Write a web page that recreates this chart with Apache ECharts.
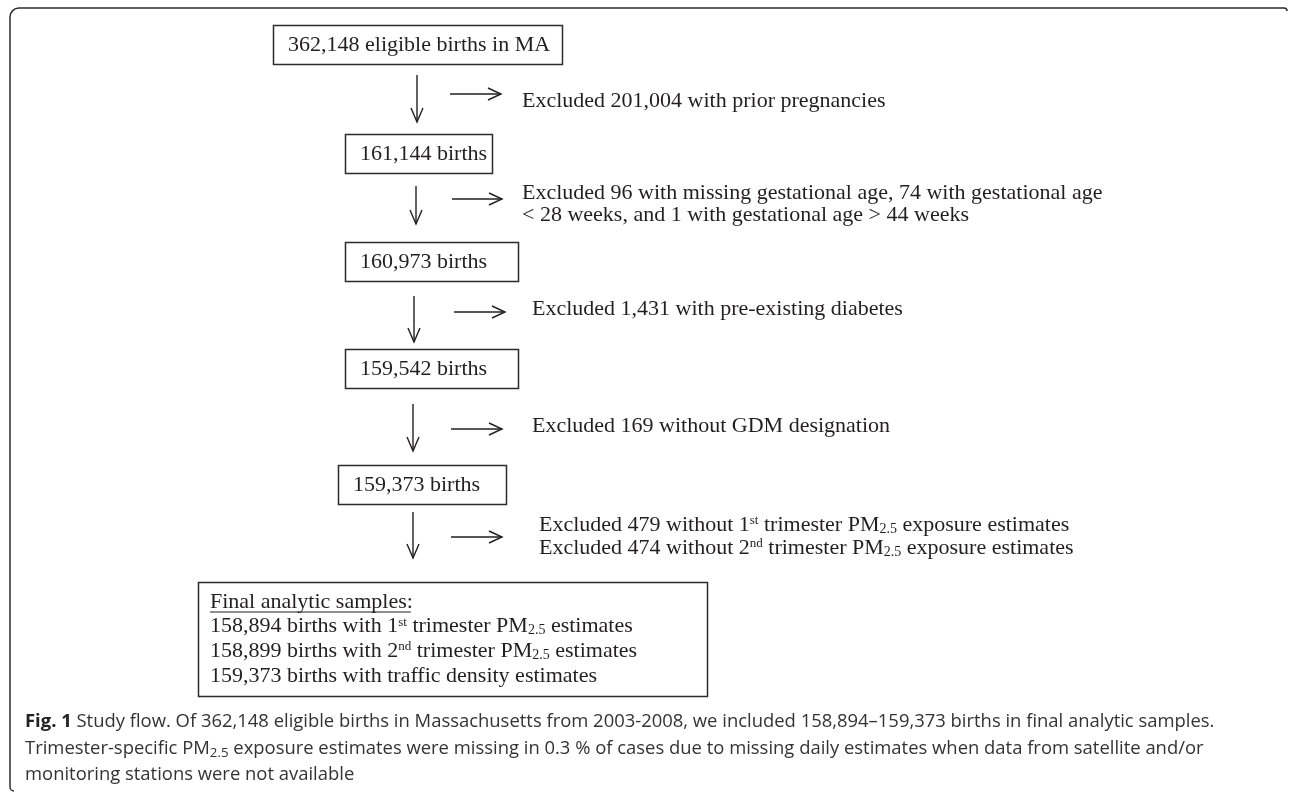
<!DOCTYPE html>
<html>
<head>
<meta charset="utf-8">
<title>Study flow</title>
<script src="https://cdn.jsdelivr.net/npm/echarts@6/dist/echarts.min.js"></script>
<style>
    html, body { margin: 0; padding: 0; background: #fff; }
    #main { width: 1290px; height: 793px; }
</style>
</head>
<body>
<div id="main"></div>
<script>
// 流程图内容
var boxLabels = ['362,148 eligible births in MA', '161,144 births', '160,973 births', '159,542 births', '159,373 births'];
var exclusionLines = [
    ['Excluded 201,004 with prior pregnancies'],
    ['Excluded 96 with missing gestational age, 74 with gestational age', '< 28 weeks, and 1 with gestational age > 44 weeks'],
    ['Excluded 1,431 with pre-existing diabetes'],
    ['Excluded 169 without GDM designation'],
    ['Excluded 479 without 1{sup|st} trimester PM{sub|2.5} exposure estimates',
     'Excluded 474 without 2{sup|nd} trimester PM{sub|2.5} exposure estimates']
];
var finalTitle = 'Final analytic samples:';
var finalLines = [
    '158,894 births with 1{sup|st} trimester PM{sub|2.5} estimates',
    '158,899 births with 2{sup|nd} trimester PM{sub|2.5} estimates',
    '159,373 births with traffic density estimates'
];
var captionBold = 'Fig. 1';
var captionLines = [
    ' Study flow. Of 362,148 eligible births in Massachusetts from 2003-2008, we included 158,894\u2013159,373 births in final analytic samples.',
    'Trimester-specific PM{sub|2.5} exposure estimates were missing in 0.3 % of cases due to missing daily estimates when data from satellite and/or',
    'monitoring stations were not available'
];

// 布局 (px)
var boxRects = [[273, 25, 289, 39], [345, 134, 147, 39], [345, 242, 173, 39], [345, 349, 173, 39], [338, 465, 168, 39]];
var downArrows = [[417, 75, 122], [416, 186, 224], [414, 296, 342], [413, 404, 451], [413, 512, 558]];
var rightArrows = [[450, 501, 94], [452, 502, 199], [454, 505, 312], [451, 502, 429], [451, 502, 537]];
var exclusionPos = [[522, 101, 22], [522, 193, 22.5], [532, 309, 22], [532, 426, 22], [539, 525, 23]];
var finalBox = [198, 582, 509, 114];
var finalText = [210, 602, 24.7];
var captionPos = [25, 722, 26.5, 1190];

var ink = '#231f20';
var lineColor = '#2b2b2b';
var serif = '"Liberation Serif", "Times New Roman", serif';
var sans = '"Open Sans", "Noto Sans", sans-serif';
var serifSize = 22;

var measureCtx = document.createElement('canvas').getContext('2d');
function textWidth(str, font) {
    measureCtx.font = font;
    return measureCtx.measureText(str).width;
}

// 说明文字字号按第一行宽度估算
var capW = textWidth(captionBold, 'bold 16px ' + sans) + textWidth(captionLines[0], '16px ' + sans);
var capSize = Math.max(14, Math.min(19, 16 * captionPos[3] / capW));

var serifRich = {
    sup: { fontSize: 13, fontFamily: serif, fill: ink, verticalAlign: 'top', lineHeight: 14 },
    sub: { fontSize: 14, fontFamily: serif, fill: ink, verticalAlign: 'bottom', lineHeight: 17 }
};
var sansRich = {
    b: { fontSize: capSize, fontFamily: sans, fontWeight: 'bold', fill: '#222' },
    sub: { fontSize: capSize * 0.72, fontFamily: sans, fill: '#333', verticalAlign: 'bottom', lineHeight: capSize * 0.95 }
};

function serifText(str, x, y) {
    return {
        type: 'text',
        silent: true,
        style: {
            text: str, x: x, y: y,
            fontSize: serifSize, fontFamily: serif, fill: ink,
            align: 'left', verticalAlign: 'middle',
            textAlign: 'left', textVerticalAlign: 'middle',
            lineHeight: serifSize,
            rich: serifRich
        }
    };
}

var elements = [];

// 外框 (上、左两边)
var frameStyle = { stroke: lineColor, lineWidth: 1.5, fill: null };
elements.push({ type: 'line', silent: true, shape: { x1: 19, y1: 8, x2: 1284, y2: 8 }, style: frameStyle });
elements.push({ type: 'arc', silent: true, shape: { cx: 1284, cy: 11, r: 3, startAngle: -Math.PI / 2, endAngle: 0, clockwise: true }, style: frameStyle });
elements.push({ type: 'arc', silent: true, shape: { cx: 19, cy: 17, r: 9, startAngle: Math.PI, endAngle: Math.PI * 1.5, clockwise: true }, style: frameStyle });
elements.push({ type: 'line', silent: true, shape: { x1: 10, y1: 17, x2: 10, y2: 787 }, style: frameStyle });
elements.push({ type: 'arc', silent: true, shape: { cx: 14, cy: 787, r: 4, startAngle: Math.PI / 2, endAngle: Math.PI, clockwise: true }, style: frameStyle });

// 方框
boxLabels.forEach(function (label, i) {
    var r = boxRects[i];
    elements.push({
        type: 'rect', silent: true,
        shape: { x: r[0] + 0.5, y: r[1] + 0.5, width: r[2], height: r[3] },
        style: { fill: '#fff', stroke: lineColor, lineWidth: 1.5 }
    });
    elements.push(serifText(label, r[0] + 15, r[1] + r[3] / 2 + 1));
});

// 向下箭头
downArrows.forEach(function (a) {
    var arrowStyle = { stroke: ink, lineWidth: 1.4, fill: null };
    elements.push({ type: 'line', silent: true, shape: { x1: a[0], y1: a[1], x2: a[0], y2: a[2] }, style: arrowStyle });
    elements.push({ type: 'polyline', silent: true, shape: { points: [[a[0] - 6, a[2] - 14], [a[0], a[2]], [a[0] + 6, a[2] - 14]] }, style: arrowStyle });
});

// 向右箭头
rightArrows.forEach(function (a) {
    var arrowStyle = { stroke: ink, lineWidth: 1.4, fill: null };
    elements.push({ type: 'line', silent: true, shape: { x1: a[0], y1: a[2], x2: a[1], y2: a[2] }, style: arrowStyle });
    elements.push({ type: 'polyline', silent: true, shape: { points: [[a[1] - 13, a[2] - 6], [a[1], a[2]], [a[1] - 13, a[2] + 6]] }, style: arrowStyle });
});

// 排除说明
exclusionLines.forEach(function (lines, i) {
    var p = exclusionPos[i];
    lines.forEach(function (line, j) {
        elements.push(serifText(line, p[0], p[1] + j * p[2]));
    });
});

// 最终样本框
elements.push({
    type: 'rect', silent: true,
    shape: { x: finalBox[0] + 0.5, y: finalBox[1] + 0.5, width: finalBox[2], height: finalBox[3] },
    style: { fill: '#fff', stroke: lineColor, lineWidth: 1.5 }
});
elements.push(serifText(finalTitle, finalText[0], finalText[1]));
var titleW = textWidth(finalTitle, serifSize + 'px ' + serif);
elements.push({
    type: 'line', silent: true,
    shape: { x1: finalText[0], y1: finalText[1] + 10, x2: finalText[0] + titleW - 2, y2: finalText[1] + 10 },
    style: { stroke: ink, lineWidth: 1.2 }
});
finalLines.forEach(function (line, j) {
    elements.push(serifText(line, finalText[0], finalText[1] + (j + 1) * finalText[2]));
});

// 图注
captionLines.forEach(function (line, j) {
    var str = j === 0 ? '{b|' + captionBold + '}' + line : line;
    elements.push({
        type: 'text', silent: true,
        style: {
            text: str, x: captionPos[0], y: captionPos[1] + j * captionPos[2],
            fontSize: capSize, fontFamily: sans, fill: '#333',
            align: 'left', verticalAlign: 'middle',
            textAlign: 'left', textVerticalAlign: 'middle',
            lineHeight: capSize * 1.2,
            rich: sansRich
        }
    });
});

var myChart = echarts.init(document.getElementById('main'));
var option = {
    backgroundColor: '#fff',
    animation: false,
    graphic: { elements: elements }
};
myChart.setOption(option);
</script>
</body>
</html>
